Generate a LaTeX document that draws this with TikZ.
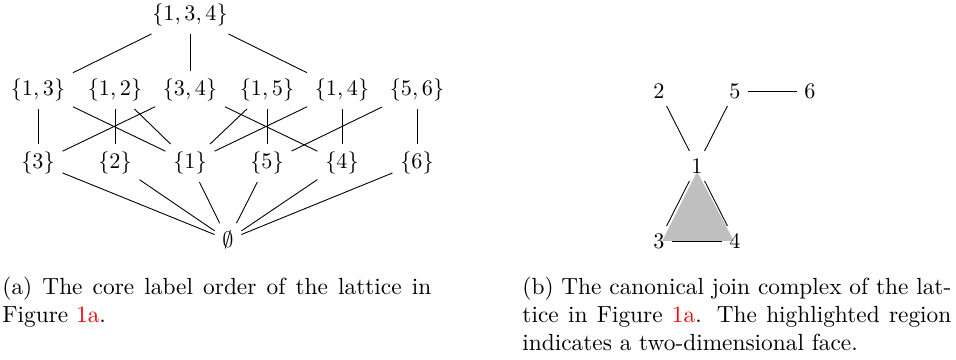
\documentclass[tikz,border=0pt]{standalone}
\usepackage{amsmath, amssymb}
\usepackage{xcolor}
\usetikzlibrary{backgrounds}
\tikzset{capt/.style={anchor=north west, inner sep=0pt, text width=193pt, align=justify, font=\fontsize{10.5}{12.4}\selectfont}}

\begin{document}
\begin{tikzpicture}[x=0.45pt, y=-0.45pt]
  \useasboundingbox (0,0) rectangle (956,360);
  % core label order
  \node (t134) at (190,15) {$\{1,3,4\}$};
  \node (p13) at (38,90) {$\{1,3\}$};  \node (p12) at (115,90) {$\{1,2\}$};
  \node (p34) at (190,90) {$\{3,4\}$}; \node (p15) at (267,90) {$\{1,5\}$};
  \node (p14) at (342,90) {$\{1,4\}$}; \node (p56) at (417,90) {$\{5,6\}$};
  \node (s3) at (38,163) {$\{3\}$};  \node (s2) at (115,163) {$\{2\}$};
  \node (s1) at (190,163) {$\{1\}$}; \node (s5) at (267,163) {$\{5\}$};
  \node (s4) at (342,163) {$\{4\}$}; \node (s6) at (417,163) {$\{6\}$};
  \node (bot) at (228,240) {$\emptyset$};
  \draw (t134) -- (p13); \draw (t134) -- (p34); \draw (t134) -- (p14);
  \draw (p13) -- (s3); \draw (p13) -- (s1);
  \draw (p12) -- (s2); \draw (p12) -- (s1);
  \draw (p34) -- (s3); \draw (p34) -- (s4);
  \draw (p15) -- (s1); \draw (p15) -- (s5);
  \draw (p14) -- (s1); \draw (p14) -- (s4);
  \draw (p56) -- (s5); \draw (p56) -- (s6);
  \foreach \s in {s3,s2,s1,s5,s4,s6} \draw (\s) -- (bot);
  % canonical join complex
  \node (v2) at (659,91) {$2$}; \node (v5) at (735,91) {$5$}; \node (v6) at (810,91) {$6$};
  \node (v1) at (697,166) {$1$};
  \node (v3) at (659,241) {$3$}; \node (v4) at (735,241) {$4$};
  \begin{scope}[on background layer]
    \fill[lightgray] ([yshift=-2.5pt]v1.center) -- ([xshift=1.5pt]v3.center) -- ([xshift=-0.5pt]v4.center) -- cycle;
  \end{scope}
  \draw (v2) -- (v1); \draw (v5) -- (v1); \draw (v5) -- (v6);
  \draw (v1) -- (v3); \draw (v1) -- (v4); \draw (v3) -- (v4);
  % captions
  \node[capt] (capa) at (2,277) {(a) The core label order of the lattice in\linebreak Figure~\textcolor{red}{1a}.};
  \node[capt] (capb) at (522,277) {(b) The canonical join complex of the lat-\linebreak tice in Figure~\textcolor{red}{1a}. The highlighted region\linebreak indicates a two-dimensional face.};
\end{tikzpicture}
\end{document}
